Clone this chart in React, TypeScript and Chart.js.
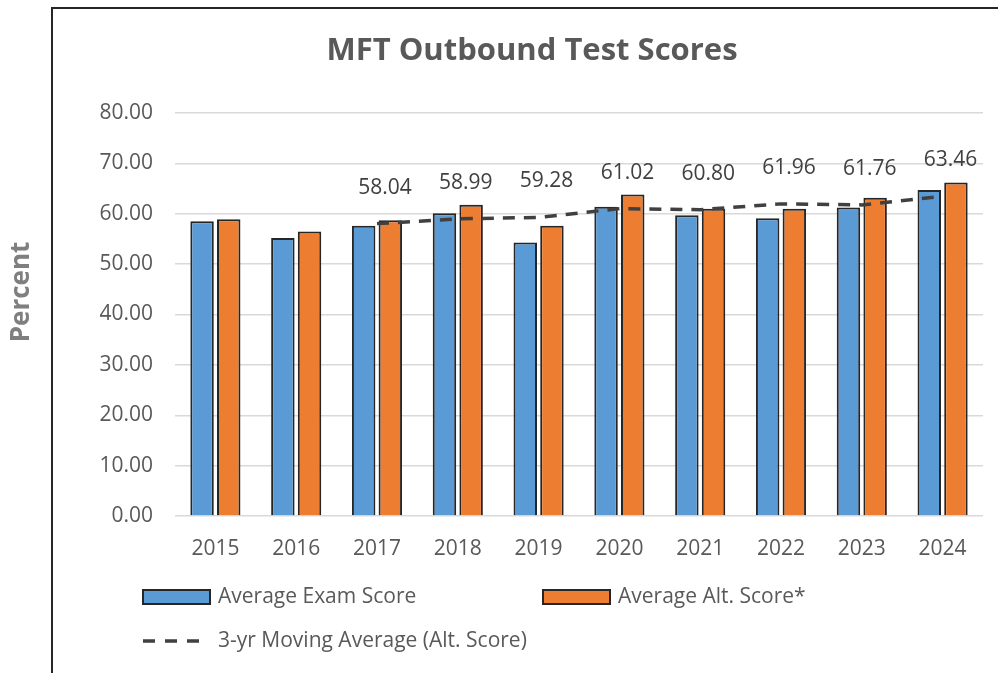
import React, { useEffect, useRef } from "react";
import { Chart, registerables } from "chart.js";

Chart.register(...registerables);

const years = ["2015", "2016", "2017", "2018", "2019", "2020", "2021", "2022", "2023", "2024"];
const examScores = [58.5, 55.2, 57.6, 60.1, 54.3, 61.4, 59.7, 59.1, 61.25, 64.7];
const altScores = [58.9, 56.5, 58.7, 61.8, 57.6, 63.8, 61.0, 61.0, 63.2, 66.2];
const movingAvg = [null, null, 58.04, 58.99, 59.28, 61.02, 60.8, 61.96, 61.76, 63.46];

const TITLE = "MFT Outbound Test Scores";
const Y_TITLE = "Percent";
const LEGEND_EXAM = "Average Exam Score";
const LEGEND_ALT = "Average Alt. Score*";
const LEGEND_MA = "3-yr Moving Average (Alt. Score)";

const FONT = "'Open Sans', sans-serif";
const BLUE = "#5B9BD5";
const ORANGE = "#ED7D31";
const EDGE = "#262626";
const TEXT = "#595959";

const decorPlugin = {
  id: "decor",
  beforeDraw(chart: any) {
    const ctx = chart.ctx;
    ctx.save();
    ctx.fillStyle = "#ffffff";
    ctx.fillRect(0, 0, chart.width, chart.height);
    ctx.strokeStyle = EDGE;
    ctx.lineWidth = 2;
    ctx.beginPath();
    ctx.moveTo(52, chart.height);
    ctx.lineTo(52, 8);
    ctx.lineTo(chart.width, 8);
    ctx.stroke();
    ctx.restore();
  },
  afterDraw(chart: any) {
    const ctx = chart.ctx;
    ctx.save();
    // title
    ctx.fillStyle = TEXT;
    ctx.font = `bold 31px ${FONT}`;
    ctx.textAlign = "center";
    ctx.textBaseline = "middle";
    ctx.fillText(TITLE, 532, 51);
    // y title
    ctx.save();
    ctx.translate(22, 292);
    ctx.rotate(-Math.PI / 2);
    ctx.fillStyle = "#7F7F7F";
    ctx.font = `bold 26px ${FONT}`;
    ctx.fillText(Y_TITLE, 0, 0);
    ctx.restore();

    // data labels for moving average
    const meta = chart.getDatasetMeta(2);
    ctx.fillStyle = "#404040";
    ctx.font = `21px ${FONT}`;
    ctx.textAlign = "center";
    ctx.textBaseline = "middle";
    meta.data.forEach((pt: any, i: number) => {
      const v = movingAvg[i];
      if (v == null) return;
      ctx.fillText(v.toFixed(2), pt.x + 8, pt.y - 36);
    });

    // legend
    ctx.font = `21px ${FONT}`;
    ctx.textAlign = "left";
    ctx.textBaseline = "middle";
    const drawBox = (x: number, y: number, color: string) => {
      ctx.fillStyle = color;
      ctx.fillRect(x, y - 7, 67, 14);
      ctx.strokeStyle = EDGE;
      ctx.lineWidth = 2;
      ctx.strokeRect(x, y - 7, 67, 14);
    };
    drawBox(143, 597, BLUE);
    ctx.fillStyle = TEXT;
    ctx.fillText(LEGEND_EXAM, 218, 597);
    drawBox(543, 597, ORANGE);
    ctx.fillStyle = TEXT;
    ctx.fillText(LEGEND_ALT, 618, 597);
    ctx.strokeStyle = "#404040";
    ctx.lineWidth = 3.5;
    ctx.setLineDash([12, 10]);
    ctx.beginPath();
    ctx.moveTo(143, 641);
    ctx.lineTo(201, 641);
    ctx.stroke();
    ctx.setLineDash([]);
    ctx.fillStyle = TEXT;
    ctx.fillText(LEGEND_MA, 218, 641);
    ctx.restore();
  },
};

export default function App() {
  const ref = useRef<HTMLCanvasElement>(null);
  useEffect(() => {
    document.body.style.margin = "0";
    if (!ref.current) return;
    const chart = new Chart(ref.current, {
      type: "bar",
      data: {
        labels: years,
        datasets: [
          {
            type: "bar",
            label: LEGEND_EXAM,
            data: examScores,
            backgroundColor: BLUE,
            borderColor: EDGE,
            borderWidth: 2,
            categoryPercentage: 0.66,
            barPercentage: 0.88,
            order: 1,
          },
          {
            type: "bar",
            label: LEGEND_ALT,
            data: altScores,
            backgroundColor: ORANGE,
            borderColor: EDGE,
            borderWidth: 2,
            categoryPercentage: 0.66,
            barPercentage: 0.88,
            order: 1,
          },
          {
            type: "line",
            label: LEGEND_MA,
            data: movingAvg as any,
            borderColor: "#404040",
            borderWidth: 3.5,
            borderDash: [12, 9],
            pointRadius: 0,
            fill: false,
            tension: 0,
            order: 0,
          },
        ],
      },
      options: {
        animation: false,
        responsive: false,
        layout: { padding: { top: 113, right: 15, left: 0, bottom: 0 } },
        plugins: {
          legend: { display: false },
          title: { display: false },
          tooltip: { enabled: false },
        },
        scales: {
          x: {
            grid: { display: false, drawTicks: false },
            border: { display: false },
            ticks: { font: { family: FONT, size: 21 }, color: TEXT, padding: 20 },
            afterFit: (s: any) => {
              s.height = 157;
            },
          },
          y: {
            min: 0,
            max: 80,
            grid: { color: "#D9D9D9", lineWidth: 1.5, drawTicks: false },
            border: { display: false },
            ticks: {
              stepSize: 10,
              font: { family: FONT, size: 21 },
              color: TEXT,
              padding: 22,
              callback: (v: any) => Number(v).toFixed(2),
            },
            afterFit: (s: any) => {
              s.width = 175;
            },
          },
        },
      },
      plugins: [decorPlugin],
    });
    return () => chart.destroy();
  }, []);
  return (
    <div style={{ position: "fixed", left: 0, top: 0, width: 998, height: 673 }}>
      <canvas ref={ref} width={998} height={673} style={{ display: "block" }} />
    </div>
  );
}
